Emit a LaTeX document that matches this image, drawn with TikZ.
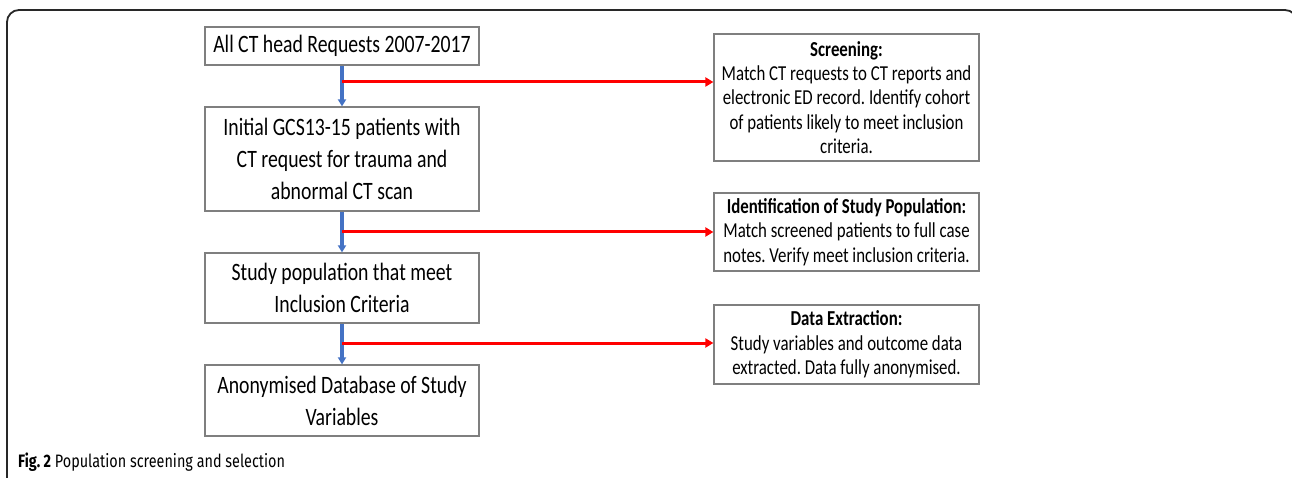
\documentclass[tikz,border=0pt]{standalone}
\usepackage{fontspec}
\usetikzlibrary{arrows.meta}
\newfontfamily\boxfont[FakeStretch=0.79]{Carlito}
\newfontfamily\capfont[FakeStretch=0.8]{Fira Sans}
\definecolor{FlowBlue}{RGB}{68,114,196}
\definecolor{BoxGray}{RGB}{127,127,127}
\definecolor{FrameGray}{RGB}{40,40,40}
\frenchspacing

\begin{document}
\begin{tikzpicture}[x=1pt,y=-1pt,
  stage/.style={draw=BoxGray,line width=1.2pt,inner sep=0pt,minimum width=274pt,align=center,
    font=\boxfont\fontsize{25}{32}\selectfont},
  task/.style={draw=BoxGray,line width=1.2pt,inner sep=0pt,minimum width=265pt,align=center,
    font=\boxfont\fontsize{21.3}{24.3}\selectfont},
  down/.style={FlowBlue,line width=3.2pt,-{Triangle[length=7pt,width=8pt]}},
  side/.style={red,line width=3pt,-{Triangle[length=8pt,width=9pt]}}]
\useasboundingbox (0,0) rectangle (1292,478);
\clip (0,0) rectangle (1292,478);
\draw[FrameGray,line width=1.8pt,rounded corners=12pt] (7,500) -- (7,10) -- (1297,10) -- (1297,500);

\node[stage,minimum height=38pt] (all) at (342,46) {All CT head Requests 2007-2017};
\node[stage,minimum height=104pt] (gcs) at (342,159) {Initial GCS13-15 patients with\\CT request for trauma and\\abnormal CT scan};
\node[stage,minimum height=70pt] (pop) at (342,288) {Study population that meet\\Inclusion Criteria};
\node[stage,minimum height=71pt] (db) at (342,400.5) {Anonymised Database of Study\\Variables};

\node[task,minimum height=127pt] (scr) at (846.5,97.5) {\textbf{Screening:}\\Match CT requests to CT reports and\\electronic ED record. Identify cohort\\of patients likely to meet inclusion\\criteria.};
\node[task,minimum height=78pt] (idn) at (846.5,232) {\textbf{Identification of Study Population:}\\Match screened patients to full case\\notes. Verify meet inclusion criteria.};
\node[task,minimum height=79pt] (ext) at (846.5,344.5) {\textbf{Data Extraction:}\\Study variables and outcome data\\extracted. Data fully anonymised.};

\coordinate (s1) at (342,82);
\coordinate (s2) at (342,232);
\coordinate (s3) at (342,343);

\draw[down] (all) -- (gcs);
\draw[down] (gcs) -- (pop);
\draw[down] (pop) -- (db);

\draw[side] (s1) -- (s1 -| scr.west);
\draw[side] (s2) -- (s2 -| idn.west);
\draw[side] (s3) -- (s3 -| ext.west);

\node[anchor=base west,inner sep=0pt,font=\capfont\fontsize{18}{20}\selectfont] (cap) at (18,467)
  {\textbf{Fig. 2} Population screening and selection};
\end{tikzpicture}
\end{document}
